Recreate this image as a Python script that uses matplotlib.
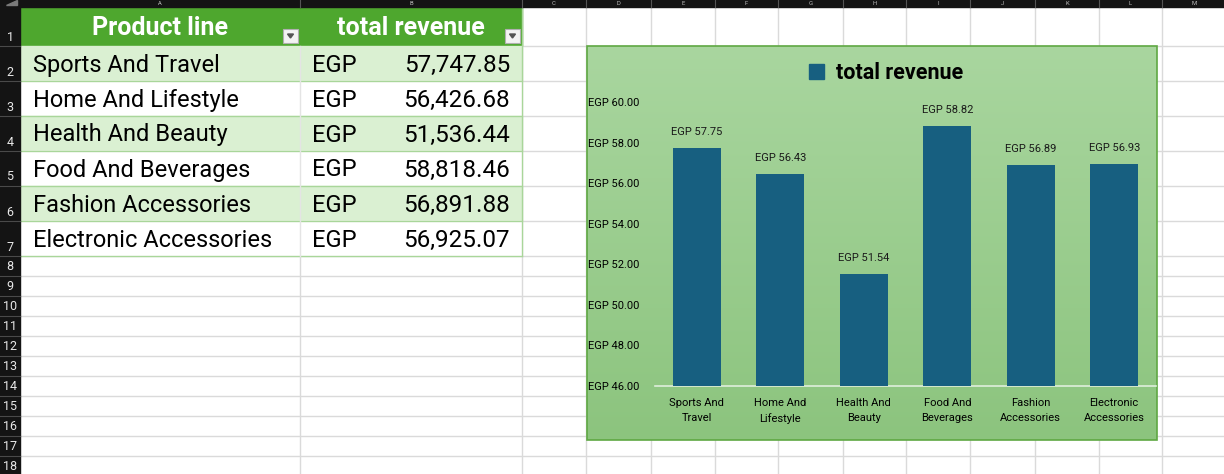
import numpy as np
import matplotlib.pyplot as plt
from matplotlib.patches import Rectangle, Polygon
from matplotlib.colors import LinearSegmentedColormap

# data
product_lines = ["Sports And Travel", "Home And Lifestyle", "Health And Beauty",
                 "Food And Beverages", "Fashion Accessories", "Electronic Accessories"]
revenue = [57747.85, 56426.68, 51536.44, 58818.46, 56891.88, 56925.07]
chart_labels = ["Sports And\nTravel", "Home And\nLifestyle", "Health And\nBeauty",
                "Food And\nBeverages", "Fashion\nAccessories", "Electronic\nAccessories"]
y_ticks = [46, 48, 50, 52, 54, 56, 58, 60]
col_letters = list("ABCDEFGHIJKLM")

W, H = 1224, 474
sheet_font = ["Roboto", "DejaVu Sans"]
chart_font = ["Liberation Sans Narrow", "Roboto", "DejaVu Sans"]

fig = plt.figure(figsize=(W / 100, H / 100), dpi=100)
bg = fig.add_axes([0, 0, 1, 1])
bg.set_xlim(0, W)
bg.set_ylim(H, 0)
bg.axis("off")

col_edges = [20, 300, 522, 586, 651, 715, 778, 843, 906, 970, 1035, 1099, 1162, 1226]
row_edges = [7, 46, 81, 116, 151, 186, 221, 256] + [256 + 20 * k for k in range(1, 12)]

# sheet gridlines
for x in col_edges[1:]:
    bg.plot([x, x], [7, H], color="#dadada", lw=1, zorder=1)
for y in row_edges[1:]:
    bg.plot([20, W], [y, y], color="#dadada", lw=1, zorder=1)

# table
header_green = "#4ea72e"
bg.add_patch(Rectangle((20, 7), 502, 39, color=header_green, zorder=2))
for i, name in enumerate(product_lines):
    top = row_edges[i + 1]
    fill = "#daf0d2" if i % 2 == 0 else "white"
    bg.add_patch(Rectangle((20, top), 502, 35, color=fill, zorder=2))
    bg.plot([20, 522], [top + 35, top + 35], color="#a9d69a", lw=1, zorder=3)
    cy = top + 19
    bg.text(33, cy, name, fontsize=17, family=sheet_font, va="center", ha="left", zorder=4)
    bg.text(312, cy, "EGP", fontsize=17, family=sheet_font, va="center", ha="left", zorder=4)
    bg.text(510, cy, f"{revenue[i]:,.2f}", fontsize=17.5, family=sheet_font,
            va="center", ha="right", zorder=4)
bg.plot([522, 522], [7, 256], color="#a9d69a", lw=1, zorder=3)
bg.plot([300, 300], [46, 256], color="#e4e4e4", lw=1, zorder=3)

bg.text(160, 28, "Product line", fontsize=18, weight="bold", color="white",
        family=sheet_font, ha="center", va="center", zorder=4)
bg.text(411, 28, "total revenue", fontsize=18, weight="bold", color="white",
        family=sheet_font, ha="center", va="center", zorder=4)
for fx in [283, 505]:
    bg.add_patch(Rectangle((fx, 29), 15, 14, facecolor="#f3f3f3", edgecolor="#b0b0b0",
                           lw=0.8, zorder=5))
    bg.add_patch(Polygon([[fx + 4.5, 34], [fx + 10.5, 34], [fx + 7.5, 38]],
                         color="#555555", zorder=6))

# headers (black)
bg.add_patch(Rectangle((0, 0), W, 7, color="#141414", zorder=6))
bg.add_patch(Rectangle((0, 0), 20, H, color="#141414", zorder=6))
bg.add_patch(Polygon([[6, 5], [17, 5], [17, 0]], color="#7a7a7a", zorder=7))
for i, letter in enumerate(col_letters):
    cx = (col_edges[i] + col_edges[i + 1]) / 2
    bg.text(cx, 3.8, letter, fontsize=4.2, color="#bdbdbd", family=sheet_font,
            ha="center", va="center", zorder=7)
for x in col_edges[1:]:
    bg.plot([x, x], [0, 7], color="#555555", lw=0.8, zorder=7)
for r in range(18):
    top, bot = row_edges[r], row_edges[r + 1]
    bg.plot([0, 20], [bot, bot], color="#4a4a4a", lw=0.8, zorder=7)
    ty = bot - 9 if r < 7 else (top + bot) / 2 + 1
    bg.text(10, ty, str(r + 1), fontsize=9, color="#e8e8e8", family=sheet_font,
            ha="center", va="center", zorder=8)

# chart area with gradient
cx0, cx1, cy0, cy1 = 587, 1157, 46, 440
grad = np.linspace(0, 1, 256).reshape(-1, 1)
cmap = LinearSegmentedColormap.from_list("g", ["#a9d69f", "#8cc47e"])
bg.imshow(grad, cmap=cmap, extent=[cx0, cx1, cy1, cy0], aspect="auto", zorder=8)
bg.add_patch(Rectangle((cx0, cy0), cx1 - cx0, cy1 - cy0, fill=False,
                       edgecolor="#5fa843", lw=1.2, zorder=9))

# plot area
px0, px1, py_top, py_bot = 655, 1156, 102, 386
ax = fig.add_axes([px0 / W, (H - py_bot) / H, (px1 - px0) / W, (py_bot - py_top) / H])
ax.set_zorder(10)
ax.patch.set_alpha(0)
x = np.arange(len(product_lines))
vals = [v / 1000 for v in revenue]
bars = ax.bar(x, vals, width=0.575, color="#175f80", zorder=3)
ax.set_xlim(-0.5, len(product_lines) - 0.5)
ax.set_ylim(46, 60)
ax.set_yticks(y_ticks)
ax.set_yticklabels([f"EGP {t:.2f}" for t in y_ticks], fontsize=8, family=chart_font)
ax.set_xticks(x)
ax.set_xticklabels(chart_labels, fontsize=8, family=chart_font, linespacing=1.55)
ax.tick_params(axis="both", length=0)
ax.tick_params(axis="y", pad=11)
ax.tick_params(axis="x", pad=9)
for s in ["top", "right", "left"]:
    ax.spines[s].set_visible(False)
ax.spines["bottom"].set_color("#dfeedb")
ax.spines["bottom"].set_linewidth(1.2)
for b, v in zip(bars, vals):
    ax.annotate(f"EGP {v:.2f}", (b.get_x() + b.get_width() / 2, v),
                xytext=(0, 8), textcoords="offset points", ha="center", va="bottom",
                fontsize=8, family=chart_font, color="#1a1a1a")

# legend
leg_h = Rectangle((0, 0), 1, 1, color="#175f80")
fig.legend([leg_h], ["total revenue"], loc="center", bbox_to_anchor=(886 / W, (H - 73) / H),
           frameon=False, handlelength=0.7, handleheight=0.7, handletextpad=0.55,
           prop={"family": chart_font, "weight": "bold", "size": 15.5})

fig.savefig("out.png", dpi=100)
